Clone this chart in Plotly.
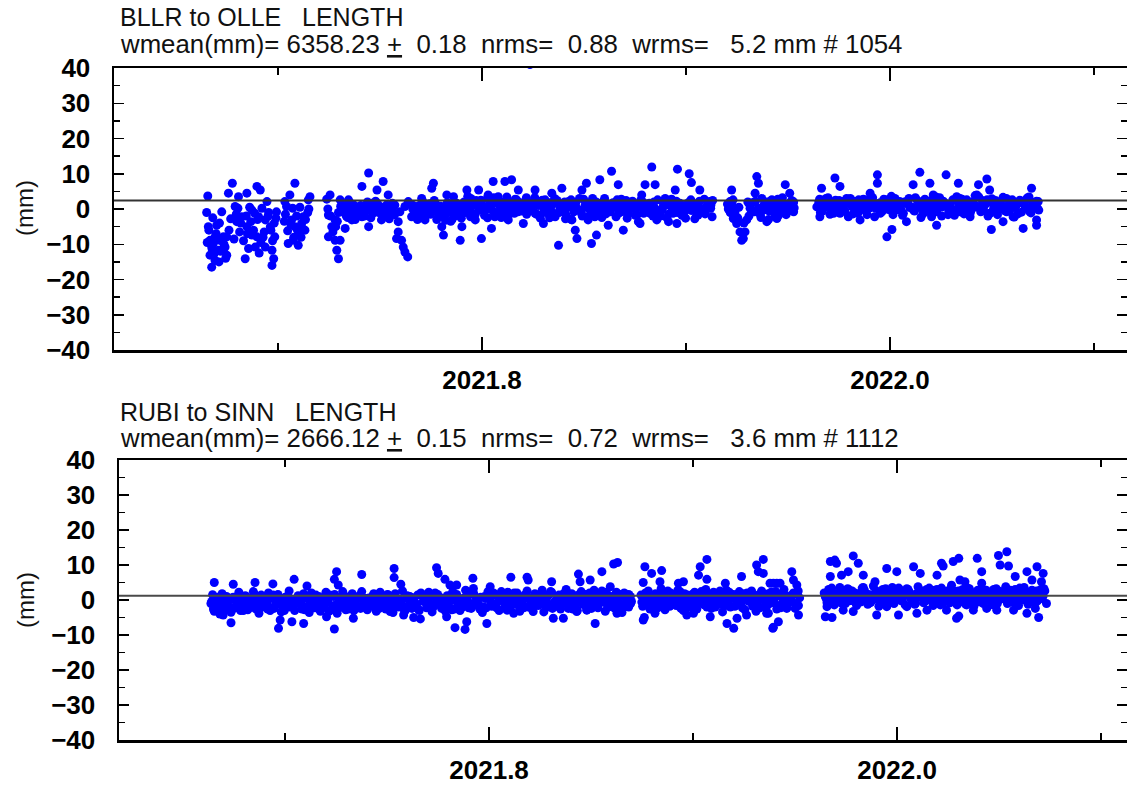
import plotly.graph_objects as go

# ---------------------------------------------------------------------------
# Data (day of year counted from 2021-01-01, continuing
# past 365 into 2022; residual in mm)
# ---------------------------------------------------------------------------
bllr_obs = [
    (243.1, 3.7), (242.9, -1.0), (243.2, -5.0), (243.5, -8.9), (243.8, -10.8), (243.5, -13.1),
    (243.8, -16.5), (244.4, -14.6), (244.7, -4.6), (245.3, -8.9), (245.6, -0.8), (245.9, -7.9),
    (246.2, -10.8), (246.5, -13.1), (245.0, -11.7), (244.1, -9.8), (244.4, -7.9), (246.5, -7.9),
    (245.6, -11.7), (243.0, -9.5), (243.9, -11.5), (244.6, -7.0), (245.4, -12.0), (246.0, -10.0),
    (246.9, -6.0), (244.0, -2.5), (245.1, -15.0),
    (247.5, 7.3), (246.8, 4.5), (248.6, 3.5), (250.1, 4.5), (251.9, 6.4), (252.5, 5.4), (248.0, 0.7),
    (249.2, -2.2), (248.3, -3.6), (250.1, -5.0), (251.0, -7.4), (251.9, -7.9), (250.4, -11.2),
    (249.8, -14.1), (251.6, -10.8), (253.4, -10.8), (254.6, -11.7), (254.9, -14.1), (254.6, -16.0),
    (255.4, -0.8), (253.7, 2.1), (252.8, 0.2), (254.3, -5.0), (255.1, -7.9), (253.4, -3.1),
    (251.0, -0.3), (252.2, -2.2), (248.2, -1.5), (249.0, -4.0), (250.0, -2.0), (251.3, -6.0),
    (252.0, -3.0), (253.0, -8.0), (254.0, -1.0), (255.0, -4.0), (248.8, -6.5), (250.6, 0.5),
    (252.6, -9.5), (254.4, -6.0),
    (257.8, 4.0), (258.7, 7.3), (257.2, 0.7), (258.1, -3.1), (258.7, -5.0), (259.3, -7.0),
    (259.9, -4.1), (260.2, -2.2), (260.5, -6.0), (257.5, -9.8), (259.3, -10.3), (256.9, 2.1),
    (258.4, -8.9), (261.4, 3.5), (261.1, 2.6), (257.0, -1.5), (258.0, -4.5), (259.0, -2.0),
    (260.0, -5.5), (261.0, -1.0), (258.5, -8.0), (259.6, 0.5),
    (265.0, 4.0), (264.7, -1.7), (265.3, -5.0), (264.7, -7.9), (265.9, -8.9), (266.2, -11.7),
    (266.5, -14.1), (266.8, -8.9), (265.9, -3.1), (266.8, 2.6), (267.1, -0.8), (265.1, -2.0),
    (266.0, -5.0), (266.5, -1.0), (264.4, 2.8),
    (271.9, 10.2), (274.5, 7.8), (270.7, 6.4), (273.4, 5.4), (275.4, 4.0), (268.3, 2.6),
    (269.5, 0.7), (268.9, -3.1), (270.7, -2.2), (271.9, -5.0), (273.1, -0.3), (274.2, -3.1),
    (275.7, -1.2), (276.6, 1.1), (267.7, -5.5), (270.1, -0.8), (271.6, 0.7), (272.5, 1.6),
    (273.9, 0.2), (275.1, 1.1), (268.6, -1.2), (267.5, 0.5), (267.9, -2.0), (268.5, -1.0),
    (268.8, 1.5), (269.5, -3.0), (269.8, 0.0), (270.5, 1.0), (270.9, -1.5), (271.4, -0.5),
    (271.7, 2.0), (272.3, -2.5), (272.8, 0.5), (273.5, 1.5), (273.7, -1.0), (274.4, -1.5),
    (274.8, 0.0), (275.3, 0.8), (275.6, -2.8), (276.2, -0.5), (276.4, 1.2),
    (277.2, -3.6), (277.2, -6.5), (276.9, -8.4), (277.8, -8.9), (278.1, -10.8), (278.4, -12.2),
    (278.9, -13.6), (278.4, 0.7), (279.0, 2.1), (277.5, -0.8),
    (283.5, 7.3), (283.2, 5.9), (281.4, 3.0), (280.2, 0.7), (282.6, -0.3), (284.4, -2.2),
    (285.0, -5.0), (285.3, -7.4), (286.8, -3.1), (286.2, 0.7), (288.0, -1.2), (288.3, -8.9),
    (288.6, -5.0), (279.6, -2.2), (282.0, -3.1), (283.8, 1.6), (287.1, 3.5), (285.9, 4.0),
    (281.4, -0.8), (284.7, 0.2), (279.8, 0.0), (280.0, -2.0), (280.8, -1.0), (281.0, 1.0),
    (281.8, -2.5), (282.2, 0.5), (282.8, 1.5), (283.0, -1.5), (283.9, -0.5), (284.1, -3.0),
    (284.8, 0.8), (285.2, -2.0), (285.8, -1.2), (286.0, 1.8), (286.6, -3.5), (287.0, 0.0),
    (287.6, 0.5), (287.8, -1.8),
    (289.5, 5.4), (291.6, 5.4), (294.2, 7.8), (296.3, 7.8), (297.5, 8.3), (293.3, 4.0),
    (295.1, 3.5), (298.7, 5.4), (301.7, 5.4), (292.1, -8.4), (293.9, -5.5), (290.1, -0.8),
    (291.0, -3.1), (292.7, 0.7), (295.7, -0.8), (296.9, -3.1), (298.1, 0.7), (299.6, -4.1),
    (300.5, -0.3), (294.5, -2.2), (291.9, 1.6), (290.4, 1.6), (297.5, 1.6), (289.0, 2.0),
    (289.2, -1.0), (290.0, 0.5), (290.2, 3.0), (291.0, -1.5), (291.3, 1.5), (292.0, 2.5),
    (292.4, -0.5), (293.0, 0.0), (293.2, -2.5), (294.0, 1.2), (294.3, 3.2), (295.0, -1.0),
    (295.4, 0.8), (296.0, 2.0), (296.2, -2.0), (297.0, 0.2), (297.2, 1.8), (298.0, -1.2),
    (298.4, 2.6), (299.0, 0.6), (299.3, -0.6), (300.0, 1.5), (300.2, -1.5), (300.8, 41.0),
    (303.2, -4.1), (304.7, 4.5), (305.9, -10.3), (306.5, 5.9), (308.9, -6.0), (309.2, -8.4),
    (310.1, 5.4), (310.9, 7.3), (311.8, -9.8), (312.7, -7.4), (313.3, 8.3), (315.4, 10.7),
    (316.6, 6.9), (317.5, -6.0), (320.2, -3.6), (320.8, 4.0), (301.7, -1.2), (304.1, 0.7),
    (305.3, -2.2), (307.1, -0.3), (308.3, -3.1), (310.7, 0.7), (312.4, -2.2), (314.2, -0.3),
    (316.0, 1.6), (318.4, -1.2), (319.6, 0.7), (314.8, -4.6), (311.2, -3.1), (303.5, 2.6),
    (307.7, 2.1), (301.0, 0.5), (301.3, 2.0), (302.0, -1.5), (302.3, 1.0), (303.0, 2.5),
    (303.3, -0.5), (304.0, 0.0), (304.3, -2.5), (305.0, 1.5), (305.2, 3.0), (306.0, -1.0),
    (306.3, 0.5), (307.0, 2.0), (307.3, -1.8), (308.0, 0.8), (308.2, -3.0), (309.0, 1.8),
    (309.4, -0.2), (310.0, -1.2), (310.4, 2.8), (311.0, 0.4), (311.4, -2.0), (312.0, 3.0),
    (312.2, 1.0), (313.0, -0.6), (313.5, 1.6), (314.0, 2.2), (314.4, -1.4), (315.0, 0.0),
    (315.2, 1.2), (316.2, -2.2), (316.4, 2.6), (317.0, 1.0), (317.2, -0.8), (318.0, 2.4),
    (318.2, -2.6), (319.0, 0.2), (319.3, 1.8), (320.0, -1.6), (320.4, 0.9), (321.0, 2.0),
    (321.3, -0.4),
    (322.6, 11.9), (327.2, 11.3), (329.3, 10.0), (329.7, 7.5), (321.4, 6.9), (323.2, 6.9),
    (326.8, 5.4), (331.2, 5.4), (320.5, -4.1), (323.5, -3.1), (325.6, -3.6), (327.1, -4.1),
    (330.9, -1.7), (332.4, 0.7), (321.7, 0.7), (324.4, -0.3), (328.3, -1.2), (329.4, 1.6),
    (325.9, 2.1), (333.0, 2.1), (322.3, -1.2), (330.0, -0.3), (322.0, 0.5), (322.8, -2.0),
    (323.0, 2.0), (323.8, -1.0), (324.0, -0.5), (324.7, 1.5), (325.0, 3.0), (325.3, -2.5),
    (326.0, 0.8), (326.4, -1.2), (327.0, 2.2), (327.5, -0.2), (328.0, -1.8), (328.6, 1.0),
    (329.0, 0.0), (329.6, 2.6), (330.3, -2.8), (330.6, 1.4), (331.0, 0.6), (331.5, -1.0),
    (332.0, 2.8), (332.2, -0.6), (333.2, 1.2), (333.4, -2.2),
    (336.9, 5.4), (336.6, 2.1), (337.5, -0.8), (337.8, -4.1), (338.4, -6.5), (338.7, -8.9),
    (339.0, -8.4), (339.6, -3.1), (341.4, 9.2), (341.7, 7.3), (341.1, 4.5), (343.2, -3.6),
    (345.0, -2.7), (345.6, 0.7), (346.5, 6.9), (347.3, 4.5), (347.6, 0.7), (347.9, 1.6),
    (344.1, 2.6), (342.6, -0.3), (346.7, -0.8), (340.2, 0.2), (337.2, -2.7), (339.3, -6.5),
    (336.3, 0.0), (337.0, 1.0), (338.0, -2.5), (338.2, 0.5), (339.1, -4.0), (339.8, 2.0),
    (340.0, -2.0), (340.6, 1.8), (341.0, -0.8), (342.0, -1.5), (342.3, 3.0), (343.0, 0.5),
    (343.5, -3.0), (344.0, 2.4), (344.4, -0.5), (345.2, 1.0), (345.3, -1.8), (346.0, 3.2),
    (346.2, 0.0), (347.0, -0.6), (347.2, 1.6), (348.0, 2.0), (348.1, 0.3),
    (353.0, 5.9), (355.4, 8.8), (356.3, 6.4), (352.7, -2.2), (357.8, -2.2), (359.9, -3.1),
    (361.7, 4.5), (363.0, 9.7), (363.0, 7.3), (364.7, -7.9), (365.6, -5.8), (368.2, -3.6),
    (369.4, 6.9), (370.6, 10.4), (372.4, 7.3), (372.7, -2.2), (373.6, -4.6), (375.3, 9.7),
    (377.5, 7.3), (379.6, -2.2), (381.1, 6.9), (382.6, 8.5), (383.4, -5.8), (383.1, 5.4),
    (385.5, -3.6), (387.3, -2.2), (389.1, -5.5), (390.6, 5.9), (391.5, -3.1), (391.5, -4.6),
    (353.9, 1.6), (355.1, 0.2), (356.9, 2.1), (358.7, 0.7), (360.5, 2.6), (362.3, 0.7),
    (364.1, 1.6), (365.8, -0.3), (367.0, 2.1), (368.8, 0.7), (371.2, 1.6), (374.2, 2.1),
    (376.0, 0.7), (377.8, -0.8), (379.0, 2.6), (380.2, 1.1), (382.0, -0.3), (383.7, 2.1),
    (384.9, 0.7), (386.1, 3.0), (387.9, 1.1), (389.7, 2.6), (391.8, 2.1), (390.3, -0.8),
    (386.7, -0.3), (380.8, 4.0), (377.2, 3.5), (373.0, 4.0), (363.5, -1.2), (359.3, -0.8),
    (356.3, -1.2),
    (352.5, 2.0), (352.8, -1.0), (353.5, 0.5), (353.8, 3.0), (354.5, -1.5), (354.8, 1.5),
    (355.5, 2.5), (355.8, 0.0), (356.5, -0.8), (356.8, 1.8), (357.5, 3.0), (357.8, -2.0),
    (358.5, 0.6), (358.8, 2.2), (359.5, -1.2), (359.8, 1.0), (360.5, 2.8), (360.8, -0.4),
    (361.5, 0.2), (361.8, 3.4), (362.5, -2.2), (362.8, 1.4), (363.5, 1.8), (363.8, -0.8),
    (364.5, 0.0), (364.8, 2.6), (365.5, 3.6), (365.8, -1.6), (366.5, 1.0), (366.8, -0.2),
    (367.5, -1.8), (367.8, 2.0), (368.5, 2.4), (368.8, 0.4), (369.5, -0.4), (369.8, 3.2),
    (370.5, 1.4), (370.8, -2.4), (371.5, 2.8), (371.8, 0.0), (372.5, -1.0), (372.8, 1.6),
    (373.5, 3.4), (373.8, 0.6), (374.5, -2.0), (374.8, 2.2), (375.5, 1.2), (375.8, -0.6),
    (376.5, 2.6), (376.8, -1.8), (377.5, 0.4), (377.8, 3.0), (378.5, -1.4), (378.8, 1.8),
    (379.5, 2.0), (379.8, -0.2), (380.5, 3.8), (380.8, 0.8), (381.5, -0.8), (381.8, 2.4),
    (382.5, 1.6), (382.8, -2.0), (383.5, 2.9), (383.8, 0.1), (384.5, -1.6), (384.8, 1.3),
    (385.5, 3.3), (385.8, -0.5), (386.5, 0.7), (386.8, 2.1), (387.5, -2.3), (387.8, 1.7),
    (388.5, 2.5), (388.8, -0.9), (389.5, 0.3), (389.8, 3.1), (390.5, -1.1), (390.8, 1.9),
    (391.5, 2.2), (391.9, -0.3),
]

bllr_band_extra = [
    (243.3, -6.0), (244.2, -12.8), (245.2, -4.0), (246.3, -14.0), (247.2, -2.8), (247.8, -8.5),
    (248.5, 0.2), (249.5, -9.0), (250.2, -7.0), (250.8, -3.6), (251.5, -1.2), (252.3, -12.5),
    (253.2, -6.5), (253.9, -2.0), (254.7, -9.0), (255.3, -2.6), (256.8, -3.5), (257.4, -6.2),
    (258.3, 0.2), (259.1, -5.8), (259.8, -8.0), (260.6, -3.0), (261.2, 0.0), (264.6, 0.0),
    (265.5, -6.5), (266.3, -3.5), (266.9, 0.8),
    (267.15, -0.2), (267.65, 1.0), (268.15, -2.4), (268.65, 0.3), (269.15, 1.2), (269.65, -1.8),
    (270.15, 0.4), (270.65, -0.6), (271.15, -2.0), (271.65, 1.4), (272.15, 0.0), (272.65, -1.2),
    (273.15, 2.2), (273.65, -0.4), (274.15, 0.6), (274.65, -2.2), (275.15, -1.0), (275.65, 0.2),
    (276.15, 1.6), (276.55, -1.6),
    (279.65, 1.2), (280.15, -0.6), (280.65, -3.0), (281.15, 0.4), (281.65, 2.0), (282.15, -1.8),
    (282.65, 0.8), (283.15, -0.2), (283.65, 2.4), (284.15, 1.0), (284.65, -1.4), (285.15, 0.4),
    (285.65, -3.2), (286.15, -0.8), (286.65, 1.2), (287.15, -2.2), (287.65, 1.6), (288.15, 0.2),
    (288.5, -2.6),
    (289.15, 0.0), (289.65, 3.6), (290.15, -2.2), (290.65, 1.0), (291.15, 2.4), (291.65, -0.2),
    (292.15, 0.8), (292.65, -1.8), (293.15, 3.0), (293.65, 1.4), (294.15, -0.6), (294.65, 2.0),
    (295.15, 1.6), (295.65, -2.4), (296.15, 0.4), (296.65, 3.4), (297.15, -1.4), (297.65, 0.6),
    (298.15, 2.8), (298.65, -0.8), (299.15, 1.8), (299.65, 0.0), (300.15, 3.2), (300.45, 0.4),
    (301.15, -0.4), (301.65, 3.2), (302.15, 2.0), (302.65, -2.6), (303.15, 0.8), (303.65, -1.0),
    (304.15, 1.8), (304.65, -0.6), (305.15, -1.6), (305.65, 2.4), (306.15, 0.0), (306.65, 1.4),
    (307.15, -2.8), (307.65, 0.6), (308.15, 2.6), (308.65, -0.8), (309.15, 0.2), (309.65, 3.0),
    (310.15, -2.0), (310.65, 1.0), (311.15, 1.6), (311.65, -0.6), (312.15, -1.6), (312.65, 2.0),
    (313.15, 0.6), (313.65, -2.4), (314.15, 3.0), (314.65, 0.8), (315.15, -0.8), (315.65, 1.8),
    (316.15, 0.4), (316.65, -1.2), (317.15, 2.8), (317.65, 0.2), (318.15, -1.0), (318.65, 1.2),
    (319.15, 2.2), (319.65, -1.8), (320.15, 0.6), (320.65, 2.6), (321.15, -1.2), (321.45, 1.4),
    (321.9, -0.2), (322.15, 1.6), (322.65, -0.8), (323.15, 0.2), (323.65, 2.6), (324.15, -2.0),
    (324.65, 0.6), (325.15, 1.2), (325.65, -1.4), (326.15, 2.8), (326.65, 0.2), (327.15, -1.0),
    (327.65, 1.6), (328.15, 0.4), (328.65, -2.6), (329.15, 1.8), (329.65, -0.4), (330.15, 0.8),
    (330.65, -1.8), (331.15, 2.2), (331.65, 0.0), (332.15, -1.4), (332.65, 1.0), (333.15, 0.2),
    (333.5, 2.4),
    (336.15, 1.4), (336.65, -1.0), (337.15, 2.6), (340.15, 1.2), (340.65, -0.8), (341.15, 2.2),
    (341.65, 0.2), (342.15, -2.4), (342.65, 1.0), (343.15, 2.0), (343.65, -0.6), (344.15, 0.8),
    (344.65, -2.2), (345.15, 2.8), (345.65, -0.4), (346.15, 1.2), (346.65, -1.6), (347.15, 0.4),
    (347.65, 2.4), (348.0, -0.8),
    (352.15, 0.6), (352.65, 2.8), (353.15, -0.6), (353.65, 1.8), (354.15, 3.2), (354.65, 0.2),
    (355.15, -1.2), (355.65, 1.4), (356.15, 2.4), (356.65, 0.4), (357.15, -0.4), (357.65, 1.6),
    (358.15, 3.0), (358.65, -1.4), (359.15, 1.2), (359.65, 2.6), (360.15, 0.0), (360.65, 1.6),
    (361.15, -1.6), (361.65, 2.2), (362.15, 3.2), (362.65, 0.2), (363.15, 1.4), (363.65, -0.6),
    (364.15, 2.8), (364.65, 0.8), (365.15, -0.2), (365.65, 1.8), (366.15, 3.0), (366.65, 1.2),
    (367.15, 0.2), (367.65, -1.2), (368.15, 1.6), (368.65, 3.0), (369.15, 0.6), (369.65, -0.6),
    (370.15, 2.4), (370.65, 0.4), (371.15, -1.4), (371.65, 1.8), (372.15, 2.2), (372.65, 0.0),
    (373.15, 1.0), (373.65, -0.8), (374.15, 3.2), (374.65, 0.6), (375.15, 1.6), (375.65, -1.6),
    (376.15, 0.4), (376.65, 2.4), (377.15, -0.4), (377.65, 1.4), (378.15, 2.8), (378.65, 0.2),
    (379.15, 1.2), (379.65, -1.0), (380.15, 2.0), (380.65, 0.6), (381.15, 3.4), (381.65, -0.4),
    (382.15, 1.0), (382.65, 2.6), (383.15, -1.2), (383.65, 1.6), (384.15, 2.4), (384.65, 0.0),
    (385.15, 1.2), (385.65, 3.0), (386.15, -0.8), (386.65, 1.6), (387.15, 2.6), (387.65, 0.4),
    (388.15, -1.4), (388.65, 1.8), (389.15, 2.2), (389.65, 0.6), (390.15, 3.4), (390.65, -0.2),
    (391.15, 1.4), (391.65, 0.2),
]

rubi_obs = [
    (243.0, 5.0), (246.4, 4.5), (250.3, 5.0), (253.5, 4.6), (257.3, 5.9), (259.6, 4.0),
    (264.9, 8.1), (264.5, 5.9), (265.2, 4.3), (269.4, 7.3), (275.2, 9.0), (275.2, 6.4),
    (276.4, 4.5), (282.8, 9.2), (283.1, 7.6), (284.3, 5.9), (289.3, 6.2), (285.2, 4.3),
    (286.4, 4.3), (289.4, 3.3),
    (254.5, -8.1), (254.8, -5.7), (256.9, -6.2), (259.0, -6.7), (264.5, -8.3), (267.9, -5.2),
    (246.0, -6.5), (244.6, -4.3), (243.2, -2.9), (286.1, -7.9), (287.9, -8.4), (288.2, -6.2),
    (291.8, -6.7), (263.1, -4.8), (276.9, -4.3), (279.9, -5.4), (278.7, -5.0), (284.6, -4.8),
    (274.5, -3.3),
    (242.4, -1.0), (242.7, 1.5), (243.0, -3.2), (243.4, 0.5), (243.7, -2.0), (244.0, -4.0),
    (244.4, 1.8), (244.7, -0.8), (245.0, -2.6), (245.4, -1.5), (245.7, 0.2), (246.0, -3.5),
    (246.4, 0.8), (246.7, -2.2), (247.0, -1.0), (247.4, 2.2), (247.7, -3.0), (248.0, -0.4),
    (248.4, -1.8), (248.7, 1.0), (249.0, -2.8), (249.4, 0.0), (249.7, -1.2), (250.0, 2.4),
    (250.4, -2.5), (250.7, 0.6), (251.0, -3.8), (251.4, 1.4), (251.7, -0.6), (252.0, -2.0),
    (252.4, -1.0), (252.7, 2.0), (253.0, -3.0), (253.4, 0.4), (253.7, -2.4), (254.0, -1.4),
    (254.4, 1.6), (254.7, -0.2), (255.0, -3.4), (255.4, -2.0), (255.7, 0.8), (256.0, -1.0),
    (256.4, 2.6), (256.7, -1.6), (257.0, -0.2), (257.4, -3.0), (257.7, 0.2), (258.0, 1.2),
    (258.4, -0.8), (258.7, -2.6), (259.0, 1.8), (259.4, 0.6), (259.7, -1.8), (260.0, -3.6),
    (260.4, 2.0), (260.7, -0.4), (261.0, -2.2), (261.4, -1.2), (261.7, 1.0), (262.0, -3.2),
    (262.4, 0.2), (262.7, -2.0), (263.0, 2.2), (263.4, -0.6), (263.7, 1.4), (264.0, -2.8),
    (264.4, 1.0), (264.7, -1.4), (265.0, -3.8), (265.4, -2.2), (265.7, 0.4), (266.0, 2.4),
    (266.4, 0.8), (266.7, -0.8), (267.0, -2.6), (267.4, -1.6), (267.7, 1.8), (268.0, -3.0),
    (268.4, 0.0), (268.7, -2.2), (269.0, 1.2), (269.4, 2.4), (269.7, -1.0), (270.0, -0.2),
    (270.4, -2.8), (270.7, 0.6), (271.0, -1.4), (271.4, 1.2), (271.7, -0.4), (272.0, -3.2),
    (272.4, -1.8), (272.7, 2.2), (273.0, -0.6), (273.4, 0.4), (273.7, -2.6), (274.0, 1.6),
    (274.4, -1.2), (274.7, 0.8), (275.0, -3.6), (275.4, 1.8), (275.7, -0.2), (276.0, -2.0),
    (276.4, -0.8), (276.7, 2.6), (277.0, -2.8), (277.4, 0.6), (277.7, -1.6), (278.0, 1.0),
    (278.4, -2.4), (278.7, 0.2), (279.0, -1.0), (279.4, 1.4), (279.7, -3.0), (280.0, 2.0),
    (280.4, -0.4), (280.7, 1.0), (281.0, -2.2), (281.4, 2.2), (281.7, -1.2), (282.0, -3.4),
    (282.4, -1.6), (282.7, 0.4), (283.0, 1.6), (283.4, 0.8), (283.7, -2.4), (284.0, -0.6),
    (284.4, -3.2), (284.7, 1.2), (285.0, -1.8), (285.4, 0.0), (285.7, 2.4), (286.0, -2.6),
    (286.4, 1.6), (286.7, -1.0), (287.0, -3.0), (287.4, -2.0), (287.7, 0.6), (288.0, 2.8),
    (288.4, -0.6), (288.7, 1.8), (289.0, -2.4), (289.4, 2.0), (289.7, -1.4), (290.0, -0.2),
    (290.4, -1.4), (290.7, 0.8), (291.0, -3.6), (291.4, 1.0), (291.7, -2.2), (292.0, 2.4),
    (292.4, 3.8), (296.1, 6.5), (299.0, 6.5), (299.2, 5.7), (303.4, 5.2), (308.2, 7.4),
    (308.5, 5.2), (310.3, 5.7), (312.4, 8.1), (314.5, 10.3), (315.2, 10.7), (313.9, 3.8),
    (295.4, -2.9), (296.6, -3.8), (300.1, -3.3), (303.7, -5.2), (305.5, -5.2), (307.9, -3.3),
    (309.7, -2.9), (311.2, -6.7), (315.1, -3.8),
    (292.4, 0.6), (292.7, -1.8), (293.0, 2.0), (293.4, -1.0), (293.7, 1.2), (294.0, -3.0),
    (294.4, 2.4), (294.7, -0.4), (295.0, -2.0), (295.4, 0.2), (295.7, -2.6), (296.0, 1.4),
    (296.4, -1.4), (296.7, 2.0), (297.0, -0.6), (297.4, 1.0), (297.7, -3.2), (298.0, 0.0),
    (298.4, -2.2), (298.7, 0.8), (299.0, 2.6), (299.4, 0.4), (299.7, -1.2), (300.0, -2.8),
    (300.4, 1.8), (300.7, -0.2), (301.0, -1.6), (301.4, -0.8), (301.7, 2.8), (302.0, -3.4),
    (302.4, 0.0), (302.7, -2.0), (303.0, 1.6), (303.4, 2.2), (303.7, -1.0), (304.0, -0.4),
    (304.4, -1.8), (304.7, 1.4), (305.0, -2.6), (305.4, 0.8), (305.7, -0.6), (306.0, 3.0),
    (306.4, -2.4), (306.7, 0.2), (307.0, 1.8), (307.4, 1.2), (307.7, -1.6), (308.0, -3.0),
    (308.4, -0.2), (308.7, 2.4), (309.0, -1.2), (309.4, 1.6), (309.7, -2.8), (310.0, 0.4),
    (310.4, -1.0), (310.7, 0.6), (311.0, 2.8), (311.4, 0.2), (311.7, -2.2), (312.0, -0.8),
    (312.4, 2.6), (312.7, -0.4), (313.0, -3.2), (313.4, -1.6), (313.7, 1.0), (314.0, 0.0),
    (314.4, 0.8), (314.7, -2.4), (315.0, 2.2), (315.4, -0.6), (315.7, 1.6), (316.0, -3.6),
    (316.4, 2.0), (316.7, -1.2), (317.0, 0.4), (317.2, -2.0), (317.5, 1.0), (317.7, -0.4),
    (320.1, 9.5), (321.3, 7.6), (323.1, 8.4), (322.8, 5.2), (319.8, 5.0), (326.1, 4.8),
    (327.0, 5.2), (330.0, 9.5), (331.2, 11.6), (329.7, 7.1), (331.2, 5.9), (334.5, 4.8),
    (337.4, 6.7), (340.1, 10.0), (341.3, 11.6), (340.4, 8.1), (341.3, 7.6), (342.5, 4.8),
    (343.7, 4.8), (346.4, 8.1), (346.7, 5.7), (347.3, 4.3), (343.1, 4.8), (344.3, 4.8),
    (319.8, -5.7), (320.0, -5.0), (321.9, -3.8), (327.6, -4.3), (328.8, -3.8), (331.8, -4.8),
    (334.8, -6.7), (336.0, -8.1), (336.6, -5.2), (338.3, -4.3), (342.2, -3.8), (343.1, -7.8),
    (344.0, -6.2), (343.0, -8.1), (341.9, -3.8), (347.6, -4.3), (345.5, -2.4),
    (319.4, 1.4), (319.7, -1.8), (320.0, 0.2), (320.4, -0.8), (320.7, 2.6), (321.0, -2.6),
    (321.4, 0.6), (321.7, -1.0), (322.0, 1.8), (322.4, -2.2), (322.7, 0.0), (323.0, 3.2),
    (323.4, 1.2), (323.7, -2.8), (324.0, -0.6), (324.4, -1.4), (324.7, 2.0), (325.0, 0.4),
    (325.4, 0.2), (325.7, -1.6), (326.0, 2.8), (326.4, 2.4), (326.7, -0.2), (327.0, -3.0),
    (327.4, -1.0), (327.7, 1.4), (328.0, -2.0), (328.4, 0.8), (328.7, -0.8), (329.0, 2.2),
    (329.4, -2.6), (329.7, 1.0), (330.0, -0.2), (330.4, 1.8), (330.7, -1.4), (331.0, 3.0),
    (331.4, -0.4), (331.7, 0.6), (332.0, -2.4), (332.4, 2.2), (332.7, -2.0), (333.0, 1.2),
    (333.4, -1.2), (333.7, 0.0), (334.0, -3.4), (334.4, 1.0), (334.7, 2.8), (335.0, -1.0),
    (335.4, -2.0), (335.7, 0.4), (336.0, 1.6), (336.4, 0.6), (336.7, -1.2), (337.0, 2.4),
    (337.4, -0.6), (337.7, 1.8), (338.0, -2.8), (338.4, 2.0), (338.7, -0.4), (339.0, 0.8),
    (339.4, -1.8), (339.7, 1.2), (340.0, -3.2), (340.4, 0.4), (340.7, -2.2), (341.0, 2.6),
    (341.4, 1.6), (341.7, -0.8), (342.0, -1.6), (342.4, -1.0), (342.7, 2.2), (343.0, 0.2),
    (343.4, 0.8), (343.7, -2.6), (344.0, 1.4), (344.4, -2.2), (344.7, 0.6), (345.0, 3.0),
    (345.4, 1.2), (345.7, -1.0), (346.0, -0.2), (346.4, -0.4), (346.7, 2.0), (347.0, -2.4),
    (347.4, 1.8), (347.6, -1.6), (347.8, 0.6),
    (353.3, 11.0), (354.1, 11.4), (354.4, 10.5), (357.4, 12.6), (358.3, 10.5), (353.3, 6.7),
    (355.3, 7.1), (356.5, 8.1), (359.2, 7.1), (361.3, 5.2), (363.4, 9.0), (365.2, 8.1),
    (368.2, 9.5), (369.4, 7.6), (372.4, 7.1), (373.2, 10.5), (373.5, 9.7), (375.3, 11.0),
    (376.3, 11.9), (376.5, 5.7), (377.4, 5.2), (379.6, 11.9), (380.4, 8.1), (380.4, 4.8),
    (383.4, 12.7), (384.9, 13.8), (383.7, 10.0), (385.2, 9.7), (386.4, 6.7), (388.5, 8.1),
    (390.3, 9.5), (391.4, 7.6), (391.1, 5.2), (389.4, 5.7),
    (352.4, -4.8), (353.6, -5.0), (352.7, -1.9), (355.6, -2.9), (357.4, -3.3), (359.8, -0.5),
    (361.6, -4.3), (363.4, -1.9), (365.5, -4.3), (367.0, -1.9), (368.8, -3.8), (370.6, -2.9),
    (373.0, -1.4), (374.1, -2.9), (375.9, -5.2), (376.3, -4.6), (377.7, -1.4), (378.9, -2.9),
    (381.3, -2.4), (383.1, -2.9), (386.1, -2.9), (388.5, -3.8), (390.6, -5.0), (390.0, -2.4),
    (352.4, 1.0), (352.7, -0.8), (353.0, 3.0), (353.4, 2.2), (353.7, 0.0), (354.0, -1.4),
    (354.4, -0.4), (354.7, 1.6), (355.0, 3.6), (355.4, 0.8), (355.7, 2.6), (356.0, -1.0),
    (356.4, 3.2), (356.7, -0.2), (357.0, 1.4), (357.4, 0.4), (357.7, 2.0), (358.0, -1.6),
    (358.4, 1.8), (358.7, -0.6), (359.0, 3.4), (359.4, 2.8), (359.7, 0.2), (360.0, -1.2),
    (360.4, -0.8), (360.7, 1.2), (361.0, 4.0), (361.4, 2.4), (361.7, 0.6), (362.0, -1.8),
    (362.4, 1.4), (362.7, 3.0), (363.0, -0.4), (363.4, 0.0), (363.7, 2.2), (364.0, 1.0),
    (364.4, 3.6), (364.7, -1.0), (365.0, 1.8), (365.4, 0.6), (365.7, 2.8), (366.0, -0.2),
    (366.4, 1.6), (366.7, -1.4), (367.0, 3.2), (367.4, 2.4), (367.7, 0.4), (368.0, -0.6),
    (368.4, -1.2), (368.7, 1.8), (369.0, 3.8), (369.4, 0.8), (369.7, 2.6), (370.0, -0.8),
    (370.4, 2.0), (370.7, 0.0), (371.0, 3.4), (371.4, 1.2), (371.7, -1.6), (372.0, 2.8),
    (372.4, 3.0), (372.7, 0.6), (373.0, -0.4), (373.4, 0.2), (373.7, 2.4), (374.0, 1.4),
    (374.4, 1.8), (374.7, -0.8), (375.0, 4.2), (375.4, 2.6), (375.7, 0.4), (376.0, -1.4),
    (376.4, -0.6), (376.7, 1.4), (377.0, 3.0), (377.4, 1.0), (377.7, 3.6), (378.0, -0.2),
    (378.4, 2.2), (378.7, 0.0), (379.0, -1.8), (379.4, 0.4), (379.7, 2.8), (380.0, 1.6),
    (380.4, 3.4), (380.7, -1.0), (381.0, 1.0), (381.4, 1.4), (381.7, 2.2), (382.0, -0.4),
    (382.4, -1.4), (382.7, 0.8), (383.0, 3.2), (383.4, 2.6), (383.7, 0.2), (384.0, 1.8),
    (384.4, 0.6), (384.7, 3.8), (385.0, -1.0), (385.4, 1.8), (385.7, -0.6), (386.0, 2.4),
    (386.4, 3.0), (386.7, 1.0), (387.0, -1.6), (387.4, 0.0), (387.7, 2.0), (388.0, 3.6),
    (388.4, 1.6), (388.7, -1.2), (389.0, 0.8), (389.4, 2.8), (389.7, 0.4), (390.0, -0.8),
    (390.4, -0.2), (390.7, 1.8), (391.0, 3.0), (391.4, 1.2), (391.7, 2.6), (392.0, -1.0),
]

rubi_band_extra = [
    (242.55, -0.4), (242.85, -2.6),
    (243.2, -1.4), (243.55, 0.8), (244.2, -0.2), (244.55, -2.8), (245.2, 1.0), (245.55, -1.8),
    (246.2, -2.6), (246.55, 0.2), (247.2, 0.4), (247.55, -1.4), (248.2, -3.0), (248.55, 1.2),
    (249.2, -0.6), (249.55, -2.0), (250.2, 1.6), (250.55, -0.8), (251.2, -1.6), (251.55, 0.6),
    (252.2, 0.2), (252.55, -2.6), (253.2, -2.2), (253.55, 1.4), (254.2, 0.8), (254.55, -1.2),
    (255.2, -0.4), (255.55, -3.0), (256.2, 1.2), (256.55, -2.0), (257.2, -1.8), (257.55, 0.0),
    (258.2, 0.4), (258.55, -1.0), (259.2, -2.8), (259.55, 1.0), (260.2, -0.2), (260.55, -1.6),
    (261.2, 1.4), (261.55, -2.4), (262.2, -1.0), (262.55, 0.6), (263.2, 0.2), (263.55, -3.2),
    (264.2, -2.0), (264.55, 1.6), (265.2, 0.6), (265.55, -0.8), (266.2, -1.6), (266.55, -2.8),
    (267.2, 1.0), (267.55, 0.0), (268.2, -0.8), (268.55, -1.8), (269.2, -2.4), (269.55, 0.8),
    (270.2, 0.4), (270.55, -1.0), (271.2, -1.8), (271.55, 1.8), (272.2, 0.8), (272.55, -2.4),
    (273.2, -0.4), (273.55, -1.4), (274.2, 1.4), (274.55, -0.2), (275.2, -2.2), (275.55, 0.6),
    (276.2, 0.0), (276.55, -1.6), (277.2, -3.0), (277.55, 1.2), (278.2, 0.8), (278.55, -0.6),
    (279.2, -1.2), (279.55, -2.6), (280.2, 1.6), (280.55, -0.2), (281.2, -0.6), (281.55, 0.8),
    (282.2, -2.0), (282.55, 2.0), (283.2, 0.4), (283.55, -1.2), (284.2, -1.4), (284.55, 0.2),
    (285.2, 1.2), (285.55, -2.8), (286.2, -0.2), (286.55, 0.8), (287.2, -1.8), (287.55, -0.6),
    (288.2, 0.6), (288.55, -2.2), (289.2, -1.0), (289.55, 1.4), (290.2, 0.2), (290.55, -2.6),
    (291.2, -2.0), (291.55, 0.4),
    (292.55, -0.8), (293.2, 1.6), (293.55, -2.2), (294.2, 0.0), (294.55, 1.0), (295.2, -1.6),
    (295.55, 2.2), (296.2, 0.6), (296.55, -0.8), (297.2, 2.0), (297.55, -1.8), (298.2, -0.4),
    (298.55, 1.4), (299.2, -2.0), (299.55, 0.2), (300.2, 1.0), (300.55, -1.2), (301.2, 0.4),
    (301.55, 2.0), (302.2, -1.4), (302.55, 0.8), (303.2, 2.4), (303.55, -2.4), (304.2, 0.0),
    (304.55, 1.0), (305.2, -1.2), (305.55, 1.8), (306.2, 0.8), (306.55, -1.6), (307.2, -2.6),
    (307.55, 0.2), (308.2, 1.4), (308.55, -0.4), (309.2, 0.2), (309.55, -1.8), (310.2, 2.0),
    (310.55, -2.4), (311.2, -1.2), (311.55, 1.4), (312.2, 0.6), (312.55, -0.6), (313.2, 2.2),
    (313.55, -2.0), (314.2, -0.8), (314.55, 1.2), (315.2, 1.0), (315.55, -1.4), (316.2, -2.2),
    (316.55, 0.8), (317.2, 1.6), (317.55, -1.0),
    (319.55, -0.6), (320.2, 2.0), (320.55, -1.4), (321.2, 0.4), (321.55, -2.2), (322.2, 1.4),
    (322.55, -0.2), (323.2, -1.0), (323.55, 0.6), (324.2, 2.6), (324.55, -1.8), (325.2, -0.6),
    (325.55, 1.2), (326.2, 0.8), (326.55, -2.4), (327.2, 1.8), (327.55, 0.0), (328.2, -1.6),
    (328.55, 1.6), (329.2, 0.2), (329.55, -1.0), (330.2, 2.4), (330.55, 0.6), (331.2, -2.0),
    (331.55, 1.4), (332.2, 0.6), (332.55, -0.8), (333.2, 1.6), (333.55, 2.6), (334.2, -0.4),
    (334.55, -1.6), (335.2, 2.2), (335.55, 0.8), (336.2, -1.8), (336.55, 0.2), (337.2, 1.0),
    (337.55, -2.2), (338.2, 0.4), (338.55, 1.4), (339.2, 2.6), (339.55, -0.6), (340.2, -1.2),
    (340.55, 1.6), (341.2, 0.2), (341.55, -2.0), (342.2, 1.8), (342.55, 0.6), (343.2, -0.8),
    (343.55, 2.4), (344.2, 1.2), (344.55, -1.2), (345.2, -2.0), (345.55, 0.2), (346.2, 0.8),
    (346.55, 1.6), (347.2, -1.0), (347.55, 2.6),
    (352.2, 2.0), (352.55, 0.4), (353.2, -0.2), (353.55, 3.4), (354.2, 1.8), (354.55, 0.6),
    (355.2, -0.8), (355.55, 2.2), (356.2, 1.2), (356.55, 3.0), (357.2, 2.6), (357.55, -0.4),
    (358.2, 0.2), (358.55, 1.2), (359.2, 3.6), (359.55, 0.8), (360.2, 1.6), (360.55, -0.6),
    (361.2, 0.2), (361.55, 2.6), (362.2, 2.0), (362.55, -0.2), (363.2, 3.2), (363.55, 1.6),
    (364.2, -0.6), (364.55, 0.4), (365.2, 1.4), (365.55, 3.4), (366.2, 0.0), (366.55, 2.2),
    (367.2, 3.0), (367.55, 1.0), (368.2, 0.6), (368.55, -1.0), (369.2, 2.2), (369.55, 1.4),
    (370.2, -0.4), (370.55, 3.0), (371.2, 1.8), (371.55, 0.4), (372.2, 0.0), (372.55, 2.0),
    (373.2, 3.4), (373.55, -0.8), (374.2, 1.0), (374.55, 2.8), (375.2, -0.2), (375.55, 1.2),
    (376.2, 2.6), (376.55, 0.2), (377.2, 1.6), (377.55, -1.2), (378.2, 3.2), (378.55, 1.0),
    (379.2, 0.6), (379.55, 2.4), (380.2, -0.6), (380.55, 1.8), (381.2, 2.8), (381.55, 0.0),
    (382.2, 1.2), (382.55, 3.0), (383.2, -1.0), (383.55, 1.4), (384.2, 2.4), (384.55, 0.4),
    (385.2, 0.6), (385.55, 2.8), (386.2, 1.6), (386.55, -0.8), (387.2, 3.4), (387.55, 1.2),
    (388.2, 0.0), (388.55, 2.2), (389.2, 1.8), (389.55, -0.4), (390.2, 2.6), (390.55, 0.8),
    (391.2, 0.4), (391.55, 3.2),
]

bllr_mean_level = 2.4   # mm, horizontal reference line (top panel)
rubi_mean_level = 1.2   # mm, horizontal reference line (bottom panel)

x_major_vals = [2021.8, 2022.0]
x_major_text = ["2021.8", "2022.0"]
x_minor_vals = [2021.7, 2021.9, 2022.1]
y_major_vals = [-40, -30, -20, -10, 0, 10, 20, 30, 40]

bllr_title = "BLLR to OLLE   LENGTH"
bllr_stats = "wmean(mm)= 6358.23 <u>+</u>  0.18  nrms=  0.88  wrms=   5.2 mm # 1054"
rubi_title = "RUBI to SINN   LENGTH"
rubi_stats = "wmean(mm)= 2666.12 <u>+</u>  0.15  nrms=  0.72  wrms=   3.6 mm # 1112"
y_label = "(mm)"


def to_decimal_year(doy):
    return 2021.0 + doy / 365.25


W, H = 1127, 785
FONT = "Liberation Sans, Arial, Helvetica, sans-serif"

fig = go.Figure()

for obs, xa, ya in ((bllr_obs + bllr_band_extra, "x", "y"),
                    (rubi_obs + rubi_band_extra, "x2", "y2")):
    fig.add_trace(go.Scatter(
        x=[to_decimal_year(d) for d, _ in obs],
        y=[v for _, v in obs],
        mode="markers",
        marker=dict(size=9, color="#0000ff", line=dict(width=0)),
        xaxis=xa, yaxis=ya, showlegend=False, hoverinfo="skip",
    ))


def xaxis_cfg(domain, rng, anchor):
    return dict(
        domain=domain, range=rng, anchor=anchor,
        tickmode="array", tickvals=x_major_vals, ticktext=x_major_text,
        ticks="inside", ticklen=13, tickwidth=1.5, tickcolor="black",
        showline=True, linewidth=2.5, linecolor="black", mirror="ticks",
        showgrid=False, zeroline=False,
        minor=dict(tickmode="array", tickvals=x_minor_vals, ticks="inside",
                   ticklen=7, tickwidth=1.5, tickcolor="black", showgrid=False),
        tickfont=dict(family=FONT, size=26, color="black", weight="bold"),
        ticklabelstandoff=5,
    )


def yaxis_cfg(domain, anchor):
    return dict(
        domain=domain, range=[-40, 40], anchor=anchor,
        tickmode="array", tickvals=y_major_vals,
        ticks="inside", ticklen=10, tickwidth=1.5, tickcolor="black",
        showline=True, linewidth=2.5, linecolor="black", mirror="ticks",
        showgrid=False, zeroline=False,
        minor=dict(dtick=5, ticks="inside", ticklen=6, tickwidth=1.5,
                   tickcolor="black", showgrid=False),
        tickfont=dict(family=FONT, size=26, color="black", weight="bold"),
        ticklabelstandoff=16,
    )


fig.update_layout(
    width=W, height=H, autosize=False,
    margin=dict(l=0, r=0, t=0, b=0, pad=0, autoexpand=False),
    paper_bgcolor="white", plot_bgcolor="white",
    xaxis=xaxis_cfg([114 / W, 1.0], [2021.6196, 2022.1162], "y"),
    yaxis=yaxis_cfg([1 - 350 / H, 1 - 68 / H], "x"),
    xaxis2=xaxis_cfg([119 / W, 1.0], [2021.6186, 2022.1127], "y2"),
    yaxis2=yaxis_cfg([1 - 740 / H, 1 - 460 / H], "x2"),
    shapes=[
        dict(type="line", xref="x domain", yref="y", x0=0, x1=1,
             y0=bllr_mean_level, y1=bllr_mean_level,
             line=dict(color="#333333", width=2)),
        dict(type="line", xref="x2 domain", yref="y2", x0=0, x1=1,
             y0=rubi_mean_level, y1=rubi_mean_level,
             line=dict(color="#4a4a4a", width=2)),
    ],
)


def txt(s):
    return s.replace(" ", "\u00a0")


def add_text(text, xpx, ypx, size=25, angle=0, xanchor="left"):
    fig.add_annotation(
        text=text, x=xpx / W, y=1 - ypx / H, xref="paper", yref="paper",
        xanchor=xanchor, yanchor="middle", showarrow=False, textangle=angle,
        font=dict(family=FONT, size=size, color="#111111"),
    )


add_text(txt(bllr_title), 118, 17)
add_text(txt(bllr_stats), 118, 44, size=25.8)
add_text(txt(rubi_title), 118, 412)
add_text(txt(rubi_stats), 118, 438, size=25.8)
add_text(y_label, 25, 208, size=24, angle=-90, xanchor="center")
add_text(y_label, 25, 600, size=24, angle=-90, xanchor="center")

post = (
    "document.documentElement.style.margin='0';"
    "document.documentElement.style.overflow='hidden';"
    "document.body.style.margin='0';document.body.style.padding='0';"
    "document.body.style.overflow='hidden';"
    "var gd=document.getElementById('{plot_id}');"
    "Plotly.relayout(gd,{width:%d,height:%d});" % (W, H)
)

fig.write_html("out.html", post_script=post,
               config={"displayModeBar": False, "staticPlot": True})
